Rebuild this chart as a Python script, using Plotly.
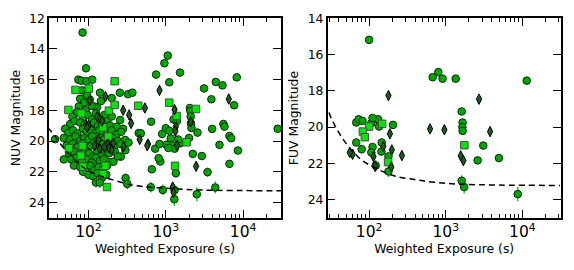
import plotly.graph_objects as go

# ---------------- DATA ----------------
# NUV panel: (weighted exposure [s], NUV magnitude)
nuv_circles = [
    (84, 12.93), (93, 15.26), (74, 16.0), (81, 16.07), (94, 16.1), (112, 16.0), (83, 16.7),
    (141, 16.85), (145, 17.4), (78, 17.25), (88, 17.5), (104, 17.3), (96, 17.0), (129, 17.8),
    (118, 17.75), (75, 17.75), (92, 18.0), (110, 17.7), (70, 18.15), (62, 18.4), (255, 16.85),
    (325, 16.95), (370, 16.85), (200, 17.2),
    (72, 18.1), (85, 18.5), (98, 18.3), (112, 18.6), (125, 18.2), (140, 18.5), (160, 18.3),
    (175, 18.7), (200, 18.4), (257, 18.63),
    (58, 18.9), (66, 18.7), (78, 18.8), (90, 18.9), (108, 19.0), (118, 18.8), (132, 19.0),
    (150, 18.9), (168, 19.1), (190, 19.0), (232, 19.07), (280, 19.2),
    (50, 19.2), (55, 19.45), (63, 19.3), (72, 19.5), (85, 19.2), (95, 19.4), (108, 19.3),
    (122, 19.5), (138, 19.3), (155, 19.45), (175, 19.5), (198, 19.3), (230, 19.6), (265, 19.4),
    (37, 19.88), (48, 19.8), (58, 19.9), (68, 19.7), (78, 20.0), (88, 19.8), (100, 19.9),
    (112, 19.7), (126, 20.0), (142, 19.8), (160, 19.9), (180, 20.1), (205, 19.8), (240, 20.0),
    (298, 19.93),
    (52, 20.3), (62, 20.2), (72, 20.4), (84, 20.15), (96, 20.5), (108, 20.3), (120, 20.1),
    (134, 20.4), (150, 20.2), (168, 20.5), (190, 20.3), (215, 20.4), (260, 20.2), (330, 20.1),
    (56, 20.8), (66, 20.7), (76, 20.85), (90, 20.6), (102, 20.8), (115, 21.0), (130, 20.7),
    (146, 20.9), (165, 20.65), (185, 20.8), (220, 20.7), (262, 21.02), (300, 20.6),
    (60, 21.2), (70, 21.1), (94, 21.2), (124, 21.1), (140, 21.3), (178, 21.35), (210, 21.35),
    (240, 21.0),
    (447, 19.48), (476, 19.5), (646, 18.74), (730, 20.5), (830, 20.19), (897, 19.54),
    (1000, 19.17), (1110, 19.33), (1160, 19.83), (1200, 20.28), (1020, 20.24), (1260, 18.6),
    (1390, 18.7), (1530, 20.15), (1450, 19.9), (1300, 20.5), (1080, 20.45),
    (750, 15.67), (960, 14.93), (1060, 14.43), (1530, 15.54), (1110, 16.17),
    (2050, 17.85), (2080, 18.05), (2100, 18.4), (2120, 18.85), (2150, 19.15), (2000, 19.8),
    (2570, 19.45), (2240, 20.84), (2930, 20.98), (3130, 16.57), (4440, 16.15), (5410, 16.37),
    (8280, 15.85), (3890, 17.28), (7650, 17.67), (3980, 19.21), (5570, 18.89), (5750, 19.06),
    (6660, 19.67), (7020, 19.82), (4950, 20.25), (8570, 20.62), (28000, 19.2),
]
# faint NUV circles: (exposure, magnitude, error)
nuv_circles_faint = [
    (48, 21.2, 0.2), (82, 21.35, 0.2), (110, 21.4, 0.2), (158, 21.2, 0.2), (65, 21.6, 0.25),
    (78, 21.7, 0.25), (92, 21.8, 0.25), (105, 21.6, 0.25), (120, 21.9, 0.25), (136, 21.7, 0.25),
    (155, 21.8, 0.25), (175, 21.6, 0.25), (85, 22.0, 0.3), (100, 22.2, 0.3), (115, 22.3, 0.3),
    (130, 22.1, 0.3), (150, 22.4, 0.3), (170, 22.2, 0.3), (125, 22.7, 0.35), (140, 22.71, 0.35),
    (302, 22.42, 0.3), (318, 22.8, 0.35), (641, 23.01, 0.35), (916, 23.19, 0.35),
    (1300, 23.2, 0.4), (1290, 23.79, 0.45), (1350, 22.1, 0.3), (660, 21.84, 0.25),
    (3470, 22.03, 0.3), (4370, 23.03, 0.4), (2520, 23.47, 0.45), (850, 21.34, 0.2),
    (810, 21.12, 0.2), (6670, 21.49, 0.2),
]
nuv_squares = [
    (55, 17.97), (68, 16.67), (101, 16.58), (81, 18.2), (184, 18.02), (218, 16.1), (218, 17.65),
    (440, 17.7), (56, 20.47), (84, 20.32), (80, 20.95), (85, 21.67), (155, 19.12), (180, 19.71),
    (166, 21.62), (155, 22.15), (174, 23.0), (1110, 17.5), (1380, 18.37), (1320, 21.62),
    (1860, 20.08), (2460, 17.91),
]
nuv_diamonds = [
    (166, 17.1), (104, 17.35), (281, 18.0), (336, 18.3), (356, 18.85), (537, 17.85), (830, 16.7),
    (1300, 17.95), (6530, 17.26), (2100, 18.75), (1350, 19.05), (1330, 19.35), (1400, 20.3),
    (590, 20.2), (575, 20.3), (460, 19.9), (2470, 21.65), (1230, 23.0), (1260, 23.35),
    (93, 18.96), (100, 19.0), (96, 19.1), (135, 19.93), (140, 20.5), (178, 20.2), (185, 20.45),
    (210, 20.15), (284, 20.37), (150, 18.7), (120, 20.3), (160, 20.4), (130, 18.4), (200, 20.6),
]
nuv_limit_exp = [30, 32, 40, 45, 60, 80, 100, 130, 180, 250, 350, 500, 800, 1500, 3000, 10000, 31000]
nuv_limit_mag = [19.15, 19.3, 19.93, 20.3, 21.0, 21.6, 21.95, 22.2, 22.45, 22.65, 22.85, 22.97,
                 23.05, 23.13, 23.2, 23.23, 23.25]

# FUV panel
fuv_circles = [
    (100, 15.19), (676, 17.25), (800, 16.97), (910, 17.33), (1350, 17.33), (11400, 17.44),
    (1615, 19.14), (1660, 19.75), (1650, 20.0), (1660, 20.21), (3090, 21.02),
    (68, 19.75), (73, 19.57), (82, 19.66), (107, 19.79), (131, 19.57), (135, 19.97),
    (205, 19.88), (111, 19.5),
]
fuv_circles_faint = [
    (68, 20.85, 0.2), (80, 21.22, 0.25), (111, 21.1, 0.2), (146, 20.85, 0.2), (107, 21.4, 0.25),
    (145, 21.35, 0.25), (122, 22.12, 0.3), (179, 22.45, 0.3), (179, 21.62, 0.25),
    (2610, 21.84, 0.2), (4950, 21.71, 0.2), (1615, 22.96, 0.3), (1740, 23.31, 0.35),
    (8700, 23.7, 0.4),
]
fuv_squares = [
    (100, 19.97), (148, 19.82), (83, 20.25), (88, 20.56), (177, 21.93), (1750, 21.0),
]
fuv_diamonds = [
    (179, 18.26), (187, 20.37), (268, 21.57), (198, 21.26), (153, 21.07), (114, 21.63),
    (61, 21.5), (56, 21.4), (120, 22.17), (195, 22.2), (624, 20.1), (960, 20.15),
    (2720, 18.46), (3790, 20.25), (1570, 21.59), (1700, 21.85),
]
fuv_limit_exp = [30, 32, 43, 60, 79, 126, 216, 400, 720, 1500, 5000, 31000]
fuv_limit_mag = [19.2, 19.5, 20.5, 21.3, 21.8, 22.3, 22.7, 22.9, 23.05, 23.15, 23.2, 23.22]

nuv_ticks = [12, 14, 16, 18, 20, 22, 24]
fuv_ticks = [14, 16, 18, 20, 22, 24]

# ---------------- STYLE ----------------
C_CIRCLE = "#00a600"
C_SQUARE = "#00e600"
C_DIAMOND = "#1d5a1d"
C_ERR = "#33cc33"
FONT = "DejaVu Sans"
FS = 12.4

fig = go.Figure()


def add_panel(circ, faint, squares, diamonds, lim_x, lim_y, xa, ya):
    fig.add_trace(go.Scatter(
        x=[p[0] for p in circ], y=[p[1] for p in circ], mode="markers", xaxis=xa, yaxis=ya,
        marker=dict(symbol="circle", size=7.6, color=C_CIRCLE, line=dict(color="#0a2a0a", width=1)),
        showlegend=False))
    fig.add_trace(go.Scatter(
        x=[p[0] for p in faint], y=[p[1] for p in faint], mode="markers", xaxis=xa, yaxis=ya,
        error_y=dict(type="data", array=[p[2] for p in faint], color=C_ERR, thickness=1.5, width=0),
        marker=dict(symbol="circle", size=7.6, color=C_CIRCLE, line=dict(color="#0a2a0a", width=1)),
        showlegend=False))
    fig.add_trace(go.Scatter(
        x=[p[0] for p in squares], y=[p[1] for p in squares], mode="markers", xaxis=xa, yaxis=ya,
        marker=dict(symbol="square", size=7.5, color=C_SQUARE, line=dict(color="#4a4a4a", width=1)),
        showlegend=False))
    fig.add_trace(go.Scatter(
        x=[p[0] for p in diamonds], y=[p[1] for p in diamonds], mode="markers", xaxis=xa, yaxis=ya,
        marker=dict(symbol="diamond-tall", size=7.5, color=C_DIAMOND, line=dict(color="#000000", width=1)),
        showlegend=False))
    fig.add_trace(go.Scatter(
        x=lim_x, y=lim_y, mode="lines", xaxis=xa, yaxis=ya,
        line=dict(color="black", width=1.5, dash="6px,4px", shape="spline"),
        showlegend=False))


add_panel(nuv_circles, nuv_circles_faint, nuv_squares, nuv_diamonds,
          nuv_limit_exp, nuv_limit_mag, "x", "y")
add_panel(fuv_circles, fuv_circles_faint, fuv_squares, fuv_diamonds,
          fuv_limit_exp, fuv_limit_mag, "x2", "y2")

common_x = dict(
    type="log", dtick=1, exponentformat="power", showgrid=False, zeroline=False,
    showline=True, linecolor="black", linewidth=1.5, mirror="allticks", automargin=False,
    ticks="inside", ticklen=8, tickwidth=1, tickcolor="black",
    minor=dict(ticks="inside", ticklen=4, tickwidth=1, tickcolor="black", showgrid=False, dtick="D1"),
    tickfont=dict(family=FONT, size=FS, color="black"),
    title=dict(text="Weighted Exposure (s)", font=dict(family=FONT, size=FS, color="black"), standoff=4),
)
common_y = dict(
    showgrid=False, zeroline=False, showline=True, linecolor="black", linewidth=1.5,
    mirror="allticks", ticks="inside", ticklen=8, tickwidth=1, tickcolor="black", automargin=False,
    tickfont=dict(family=FONT, size=FS, color="black"), tickmode="array",
)

fig.update_layout(
    width=574, height=270, margin=dict(l=0, r=0, t=0, b=0, autoexpand=False),
    paper_bgcolor="white", plot_bgcolor="white",
    font=dict(family=FONT, size=FS, color="black"),
    xaxis=dict(common_x, domain=[0.0854, 0.4895], range=[1.49, 4.49], anchor="y"),
    xaxis2=dict(common_x, domain=[0.5709, 0.9768], range=[1.46, 4.50], anchor="y2"),
    yaxis=dict(common_y, domain=[0.1937, 0.9322], range=[25, 12], tickvals=nuv_ticks, anchor="x",
               title=dict(text="NUV Magnitude", font=dict(family=FONT, size=FS, color="black"), standoff=6)),
    yaxis2=dict(common_y, domain=[0.1937, 0.9322], range=[25, 14], tickvals=fuv_ticks, anchor="x2",
                title=dict(text="FUV Magnitude", font=dict(family=FONT, size=FS, color="black"), standoff=6)),
)

fig.write_html("out.html", config={"displayModeBar": False},
               post_script="document.body.style.margin='0';document.body.style.padding='0';")
